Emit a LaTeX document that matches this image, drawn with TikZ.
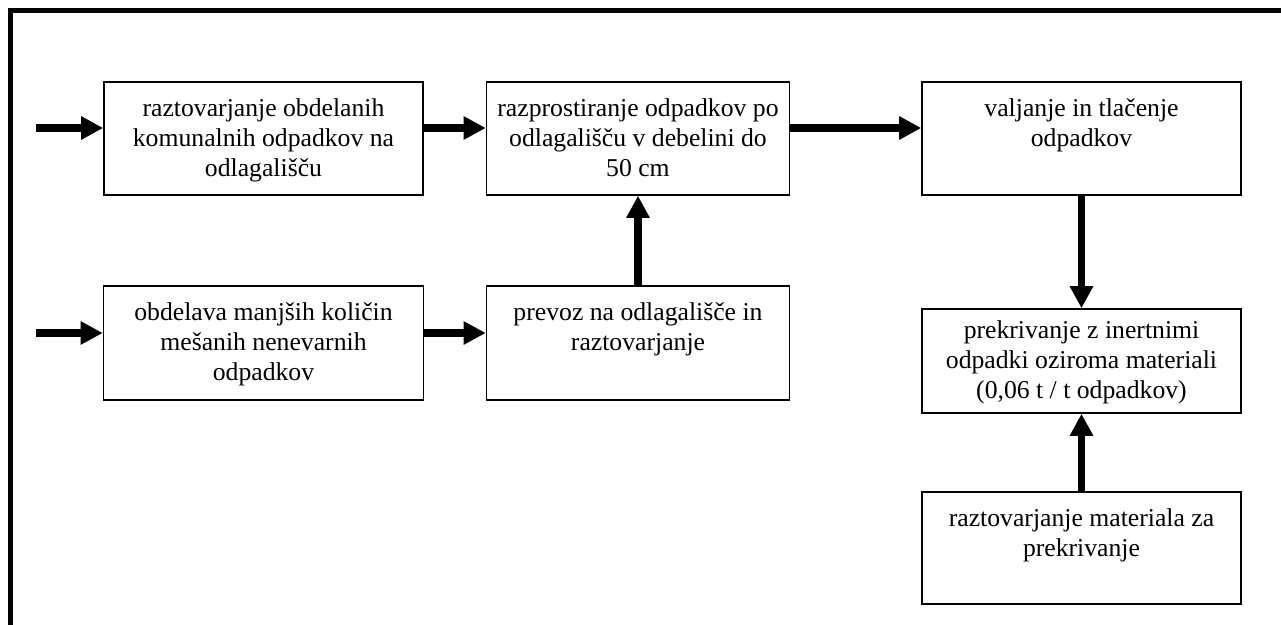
\documentclass[tikz,border=0pt]{standalone}
\usepackage{fontspec}
\setmainfont{Liberation Serif}
\usetikzlibrary{arrows.meta,positioning}
\tikzset{>={Triangle[length=10.3pt,width=10.3pt]}}
\newlength{\pxu}
\setlength{\pxu}{0.467pt}
\newcommand{\boxtext}[4][16.3pt]{\parbox[c][#2\pxu][t]{#3\pxu}{\centering\rule{0pt}{#1}#4}}
\tikzset{
	box/.style={draw,line width=0.7pt,inner sep=0pt,font=\fontsize{12pt}{13.8pt}\selectfont},
	flow/.style={->,line width=3.3pt}
}

\begin{document}
\begin{tikzpicture}[x=0.467pt,y=-0.467pt]
				\useasboundingbox (0,0) rectangle (1281,625);
				\draw[line width=2.35pt] (10.5,625) -- (10.5,10.5) -- (1281,10.5);% frame
				\node[box] (raztovar) at (263.5,138.5) {\boxtext{113}{319}{raztovarjanje obdelanih\\komunalnih odpadkov na\\odlagališču}};
				\node[box] (razprost) at (638,138.5) {\boxtext{113}{303}{razprostiranje odpadkov po\\odlagališču v debelini do\\50 cm}};
				\node[box] (valjanje) at (1081.5,138.5) {\boxtext{113}{319}{valjanje in tlačenje\\odpadkov}};
				\node[box] (obdelava) at (263.5,343) {\boxtext{114}{320}{obdelava manjših količin\\mešanih nenevarnih\\odpadkov}};
				\node[box] (prevoz) at (638,343) {\boxtext{114}{303}{prevoz na odlagališče in\\raztovarjanje}};
				\node[box] (prekriv) at (1081.5,361) {\boxtext[14pt]{104}{319}{prekrivanje z inertnimi\\odpadki oziroma materiali\\(0,06 t / t odpadkov)}};
				\node[box] (material) at (1081.5,548) {\boxtext{112}{319}{raztovarjanje materiala za\\prekrivanje}};
				\coordinate (in1) at (36,128);
				\coordinate (in2) at (36,333);
				\draw[flow] (in1) -- (raztovar.west |- in1);
				\draw[flow] (raztovar.east |- in1) -- (razprost.west |- in1);
				\draw[flow] (razprost.east |- in1) -- (valjanje.west |- in1);
				\draw[flow] (in2) -- (obdelava.west |- in2);
				\draw[flow] (obdelava.east |- in2) -- (prevoz.west |- in2);
				\draw[flow] (prevoz) -- (razprost);
				\draw[flow] (valjanje) -- (prekriv);
				\draw[flow] (material) -- (prekriv);
\end{tikzpicture}
\end{document}
